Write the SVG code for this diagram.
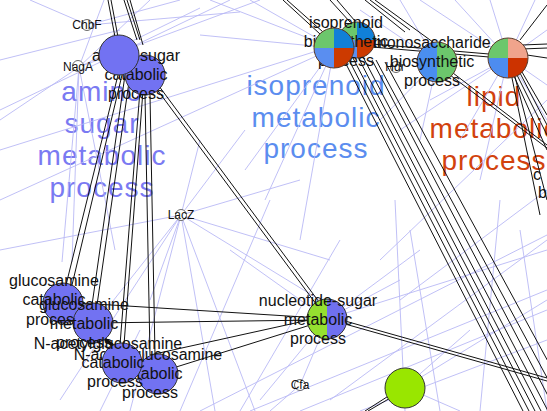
<svg xmlns="http://www.w3.org/2000/svg" width="547" height="411" viewBox="0 0 547 411">
<style>
.big{font-family:"Liberation Sans",Arial,sans-serif;font-size:28px;letter-spacing:1px;text-anchor:middle}
.lbl{font-family:"Liberation Sans",Arial,sans-serif;font-size:16px;fill:#111;text-anchor:middle}
.gene{font-family:"Liberation Sans",Arial,sans-serif;font-size:12px;fill:#111;text-anchor:middle}
.gc{fill:#fff;stroke:#444;stroke-width:0.8}
.light line{stroke:#b9b9f5;stroke-width:0.9}
.dark line{stroke:#111;stroke-width:1}
.nd{stroke:#333;stroke-width:1}
.pie{stroke:#5a3a2a;stroke-width:1;fill:none}
</style>
<rect width="547" height="411" fill="#fff"/>
<g id="cluster-labels">
<text class="big" fill="#7a7af2"><tspan x="102" y="101">amino</tspan><tspan x="102" y="133">sugar</tspan><tspan x="102" y="165">metabolic</tspan><tspan x="102" y="197">process</tspan></text>
<text class="big" fill="#5b8def"><tspan x="316" y="95">isoprenoid</tspan><tspan x="316" y="127">metabolic</tspan><tspan x="316" y="158">process</tspan></text>
<text class="big" fill="#d2420e"><tspan x="494" y="106">lipid</tspan><tspan x="494" y="138">metabolic</tspan><tspan x="494" y="170">process</tspan></text>
</g>
<g id="connectors">
<g class="light">
<line x1="79" y1="67" x2="62" y2="262"/><line x1="79" y1="67" x2="72" y2="262"/><line x1="79" y1="67" x2="104" y2="0"/><line x1="79" y1="67" x2="150" y2="0"/><line x1="79" y1="67" x2="200" y2="8"/><line x1="79" y1="67" x2="260" y2="0"/><line x1="79" y1="67" x2="0" y2="120"/><line x1="79" y1="67" x2="115" y2="250"/>
<line x1="88" y1="25" x2="180" y2="0"/><line x1="88" y1="25" x2="240" y2="12"/><line x1="88" y1="25" x2="30" y2="0"/>
<line x1="181" y1="215" x2="200" y2="140"/><line x1="181" y1="215" x2="245" y2="130"/><line x1="181" y1="215" x2="300" y2="180"/><line x1="181" y1="215" x2="330" y2="260"/><line x1="181" y1="215" x2="320" y2="300"/><line x1="181" y1="215" x2="150" y2="300"/><line x1="181" y1="215" x2="130" y2="411"/><line x1="181" y1="215" x2="215" y2="411"/><line x1="181" y1="215" x2="255" y2="411"/><line x1="181" y1="215" x2="0" y2="250"/><line x1="181" y1="215" x2="90" y2="330"/><line x1="181" y1="215" x2="60" y2="400"/>
<line x1="300" y1="385" x2="320" y2="338"/><line x1="300" y1="385" x2="270" y2="411"/>
<line x1="334" y1="48" x2="200" y2="35"/><line x1="334" y1="48" x2="210" y2="0"/><line x1="334" y1="48" x2="250" y2="0"/><line x1="0" y1="150" x2="320" y2="50"/><line x1="334" y1="48" x2="245" y2="170"/><line x1="334" y1="48" x2="265" y2="200"/><line x1="334" y1="48" x2="300" y2="240"/><line x1="334" y1="48" x2="0" y2="200"/>
<line x1="0" y1="60" x2="120" y2="30"/><line x1="0" y1="110" x2="230" y2="0"/><line x1="200" y1="411" x2="547" y2="235"/><line x1="250" y1="411" x2="547" y2="290"/><line x1="300" y1="411" x2="547" y2="310"/><line x1="330" y1="400" x2="547" y2="240"/><line x1="360" y1="411" x2="547" y2="340"/><line x1="400" y1="300" x2="547" y2="190"/><line x1="380" y1="260" x2="547" y2="100"/><line x1="395" y1="200" x2="405" y2="411"/><line x1="410" y1="230" x2="440" y2="411"/><line x1="500" y1="200" x2="480" y2="411"/><line x1="520" y1="230" x2="547" y2="411"/><line x1="180" y1="411" x2="270" y2="200"/><line x1="240" y1="411" x2="340" y2="240"/><line x1="100" y1="411" x2="140" y2="330"/>
<line x1="508" y1="58" x2="420" y2="0"/><line x1="508" y1="58" x2="455" y2="0"/><line x1="508" y1="58" x2="490" y2="0"/><line x1="508" y1="58" x2="535" y2="0"/><line x1="508" y1="58" x2="547" y2="85"/><line x1="508" y1="58" x2="547" y2="120"/><line x1="508" y1="58" x2="430" y2="100"/><line x1="508" y1="58" x2="400" y2="130"/><line x1="508" y1="58" x2="460" y2="140"/><line x1="508" y1="58" x2="480" y2="180"/><line x1="508" y1="58" x2="547" y2="30"/>
<line x1="437" y1="62" x2="400" y2="0"/><line x1="437" y1="62" x2="380" y2="120"/><line x1="437" y1="62" x2="420" y2="140"/><line x1="437" y1="62" x2="360" y2="10"/>
<line x1="327" y1="319" x2="230" y2="250"/><line x1="327" y1="319" x2="260" y2="400"/><line x1="327" y1="319" x2="420" y2="250"/><line x1="327" y1="319" x2="400" y2="280"/><line x1="327" y1="319" x2="547" y2="250"/>
<line x1="405" y1="387" x2="470" y2="330"/><line x1="405" y1="387" x2="547" y2="300"/><line x1="405" y1="387" x2="460" y2="411"/>
</g>
<g class="dark">
<line x1="108" y1="0" x2="115" y2="37"/><line x1="111" y1="0" x2="118" y2="37"/>
<line x1="124" y1="0" x2="137" y2="40"/><line x1="127" y1="0" x2="140" y2="40"/><line x1="130" y1="0" x2="143" y2="45"/>
<line x1="118" y1="75" x2="66" y2="285"/><line x1="122" y1="75" x2="72" y2="285"/><line x1="125" y1="75" x2="92" y2="305"/><line x1="130" y1="75" x2="97" y2="305"/><line x1="140" y1="90" x2="120" y2="345"/><line x1="143" y1="90" x2="124" y2="345"/><line x1="145" y1="95" x2="150" y2="355"/><line x1="150" y1="95" x2="155" y2="355"/>
<line x1="150" y1="80" x2="322" y2="312"/><line x1="153" y1="78" x2="325" y2="310"/>
<line x1="63" y1="302" x2="320" y2="318"/><line x1="93" y1="323" x2="320" y2="320"/><line x1="157" y1="373" x2="320" y2="322"/><line x1="150" y1="355" x2="318" y2="318"/>
<line x1="100" y1="335" x2="115" y2="347" style="stroke-width:3"/>
<line x1="345" y1="324" x2="547" y2="381"/><line x1="345" y1="321" x2="547" y2="378"/>
<line x1="392" y1="397" x2="368" y2="411"/><line x1="390" y1="395" x2="365" y2="411"/>
<line x1="345" y1="62" x2="523" y2="411"/><line x1="349" y1="60" x2="529" y2="411"/><line x1="353" y1="58" x2="535" y2="411"/><line x1="358" y1="57" x2="541" y2="411"/><line x1="362" y1="55" x2="548" y2="411"/><line x1="372" y1="60" x2="556" y2="411"/><line x1="376" y1="60" x2="565" y2="411"/><line x1="385" y1="62" x2="575" y2="411"/>
<line x1="450" y1="75" x2="547" y2="148"/><line x1="453" y1="73" x2="547" y2="145"/>
<line x1="514" y1="76" x2="547" y2="150"/><line x1="517" y1="75" x2="547" y2="135"/><line x1="520" y1="73" x2="547" y2="125"/><line x1="522" y1="72" x2="547" y2="115"/><line x1="512" y1="78" x2="540" y2="215"/><line x1="515" y1="77" x2="547" y2="200"/>
<line x1="372" y1="44" x2="489" y2="54"/><line x1="372" y1="47" x2="489" y2="57"/>
<line x1="283" y1="0" x2="320" y2="34"/><line x1="287" y1="0" x2="323" y2="32"/><line x1="330" y1="0" x2="350" y2="22"/><line x1="337" y1="0" x2="355" y2="21"/><line x1="365" y1="0" x2="405" y2="32"/><line x1="370" y1="0" x2="410" y2="30"/><line x1="375" y1="0" x2="437" y2="45"/>
<line x1="522" y1="45" x2="547" y2="44"/><line x1="522" y1="49" x2="547" y2="48"/><line x1="520" y1="40" x2="547" y2="5"/><line x1="527" y1="55" x2="547" y2="58"/>
</g>
</g>
<g id="gene-ChbF"><circle class="gc" cx="87" cy="25" r="5.5"/><text class="gene" x="87" y="29">ChbF</text></g>
<g id="gene-NagA"><circle class="gc" cx="78" cy="66" r="5.5"/><text class="gene" x="78" y="71">NagA</text></g>
<g id="gene-LacZ"><circle class="gc" cx="181" cy="215" r="5.5"/><text class="gene" x="181" y="219">LacZ</text></g>
<g id="gene-Cfa"><circle class="gc" cx="300" cy="385" r="5.5"/><text class="gene" x="300" y="389">Cfa</text></g>
<g id="gene-Hdr"><circle class="gc" cx="396" cy="67" r="5.5"/><text class="gene" x="395" y="71">Hdr</text></g>
<g id="amino-sugar-catabolic-B"><circle class="nd" cx="145" cy="75" r="20" fill="#7272f2"/><text class="lbl"><tspan x="136" y="61">amino sugar</tspan><tspan x="136" y="80">catabolic</tspan><tspan x="136" y="99">process</tspan></text></g>
<g id="amino-sugar-catabolic-A"><circle class="nd" cx="119" cy="55" r="20" fill="#7272f2"/></g>
<g id="isoprenoid-biosynthetic-B" transform="translate(357,40)">
<path d="M0,0 L-18,0 A18,18 0 0 1 0,-18 Z" fill="#6cc76c"/><path d="M0,0 L0,-18 A18,18 0 0 1 18,0 Z" fill="#1180d8"/><path d="M0,0 L18,0 A18,18 0 0 1 0,18 Z" fill="#cc3a00"/><path d="M0,0 L0,18 A18,18 0 0 1 -18,0 Z" fill="#5a8ef0"/><circle class="pie" r="18"/></g>
<g id="isoprenoid-biosynthetic-label"><text class="lbl"><tspan x="346" y="28">isoprenoid</tspan><tspan x="346" y="47">biosynthetic</tspan><tspan x="346" y="66">process</tspan></text></g>
<g id="isoprenoid-biosynthetic-A" transform="translate(334,48)">
<path d="M0,0 L-20,0 A20,20 0 0 1 0,-20 Z" fill="#6cc76c"/><path d="M0,0 L0,-20 A20,20 0 0 1 20,0 Z" fill="#1180d8"/><path d="M0,0 L20,0 A20,20 0 0 1 0,20 Z" fill="#cc3a00"/><path d="M0,0 L0,20 A20,20 0 0 1 -20,0 Z" fill="#5a8ef0"/><circle class="pie" r="20"/></g>
<g id="monosaccharide-biosynthetic" transform="translate(437,62)">
<path d="M0,-20 A20,20 0 0 0 0,20 Z" fill="#4a8ef0"/><path d="M0,-20 A20,20 0 0 1 0,20 Z" fill="#6cc76c"/><circle class="pie" r="20"/>
<text class="lbl"><tspan x="-5" y="-14">monosaccharide</tspan><tspan x="-5" y="5">biosynthetic</tspan><tspan x="-5" y="24">process</tspan></text></g>
<g id="lipid-metabolic" transform="translate(508,58)">
<path d="M0,0 L-20,0 A20,20 0 0 1 0,-20 Z" fill="#6cc76c"/><path d="M0,0 L0,-20 A20,20 0 0 1 20,0 Z" fill="#f0a48c"/><path d="M0,0 L20,0 A20,20 0 0 1 0,20 Z" fill="#cc3300"/><path d="M0,0 L0,20 A20,20 0 0 1 -20,0 Z" fill="#4d8cf0"/><circle class="pie" r="20"/></g>
<g id="offscreen-labels"><text class="lbl" x="533" y="180" style="text-anchor:start">c</text><text class="lbl" x="538" y="198" style="text-anchor:start">b</text></g>
<g id="nucleotide-sugar-metabolic" transform="translate(327,319)">
<path d="M0,-20 A20,20 0 0 0 0,20 Z" fill="#95e030"/><path d="M0,-20 A20,20 0 0 1 0,20 Z" fill="#7070f0"/><circle class="pie" r="20" style="stroke:#333"/>
<text class="lbl"><tspan x="-9" y="-13">nucleotide-sugar</tspan><tspan x="-9" y="6">metabolic</tspan><tspan x="-9" y="25">process</tspan></text></g>
<g id="green-node"><circle class="nd" cx="405" cy="388" r="20" fill="#99e600"/></g>
<g id="glucosamine-catabolic"><circle class="nd" cx="63" cy="303" r="20" fill="#7272f2"/><text class="lbl"><tspan x="54" y="286">glucosamine</tspan><tspan x="54" y="305">catabolic</tspan><tspan x="54" y="325">process</tspan></text></g>
<g id="glucosamine-metabolic"><circle class="nd" cx="93" cy="323" r="20" fill="#7272f2"/><text class="lbl"><tspan x="84" y="310">glucosamine</tspan><tspan x="84" y="329">metabolic</tspan><tspan x="84" y="348">process</tspan></text></g>
<g id="N-acetylglucosamine-2"><circle class="nd" cx="158" cy="374" r="20" fill="#7272f2"/><text class="lbl"><tspan x="148" y="360">N-acetylglucosamine</tspan><tspan x="151" y="379">catabolic</tspan><tspan x="150" y="398">process</tspan></text></g>
<g id="N-acetylglucosamine-1"><circle class="nd" cx="122" cy="363" r="20" fill="#7272f2"/><text class="lbl"><tspan x="108" y="349">N-acetylglucosamine</tspan><tspan x="113" y="368">catabolic</tspan><tspan x="115" y="387">process</tspan></text></g>
</svg>
